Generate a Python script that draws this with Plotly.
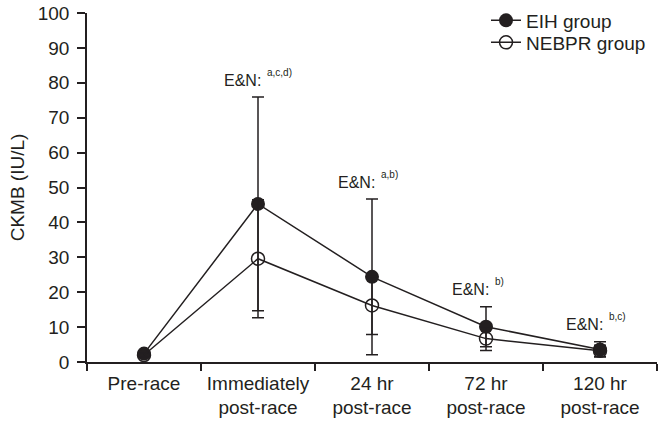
import plotly.graph_objects as go

categories = ["Pre-race", "Immediately<br>post-race", "24 hr<br>post-race",
              "72 hr<br>post-race", "120 hr<br>post-race"]
eih_mean = [2.4, 45.3, 24.4, 10.1, 3.6]
eih_sd = [0.8, 30.6, 22.3, 5.7, 2.2]
nebpr_mean = [2.0, 29.6, 16.2, 6.7, 3.2]
nebpr_sd = [0.6, 16.9, 8.3, 3.4, 1.6]
sig_labels = ["", "a,c,d)", "a,b)", "b)", "b,c)"]
y_ticks = [0, 10, 20, 30, 40, 50, 60, 70, 80, 90, 100]

INK = "#231f20"
FONT = "Arial, Liberation Sans, Helvetica, sans-serif"

fig = go.Figure()
fig.add_trace(go.Scatter(
    x=categories, y=eih_mean, name="EIH group", mode="lines+markers",
    line=dict(color=INK, width=1.5),
    marker=dict(symbol="circle", size=14, color=INK),
    error_y=dict(type="data", array=eih_sd, visible=True, color=INK,
                 thickness=1.5, width=6),
    legend="legend",
))
fig.add_trace(go.Scatter(
    x=categories, y=nebpr_mean, name="NEBPR group", mode="lines+markers",
    line=dict(color=INK, width=1.5),
    marker=dict(symbol="circle-open", size=13, color=INK, line=dict(width=1.5, color=INK)),
    error_y=dict(type="data", array=nebpr_sd, visible=True, color=INK,
                 thickness=1.5, width=6),
    legend="legend2",
))

for cat, m, s, lab in zip(categories, eih_mean, eih_sd, sig_labels):
    if not lab:
        continue
    top = m + s
    fig.add_annotation(x=cat, y=top, text="E&N:", showarrow=False,
                       xanchor="right", yanchor="middle", xshift=5, yshift=17,
                       font=dict(size=16, color=INK, family=FONT))
    fig.add_annotation(x=cat, y=top, text=lab, showarrow=False,
                       xanchor="left", yanchor="middle", xshift=7, yshift=25,
                       font=dict(size=10, color=INK, family=FONT))

legend_style = dict(xanchor="left", yanchor="top", bgcolor="rgba(0,0,0,0)",
                    font=dict(size=19, color=INK, family=FONT), itemwidth=30)

fig.update_layout(
    width=663, height=426,
    margin=dict(l=87, r=6, t=13, b=64, autoexpand=False),
    paper_bgcolor="white", plot_bgcolor="white",
    font=dict(family=FONT, size=19, color=INK),
    showlegend=True,
    hovermode=False,
    legend=dict(x=0.70, y=1.033, **legend_style),
    legend2=dict(x=0.70, y=0.970, **legend_style),
)
fig.update_xaxes(
    type="category", range=[-0.5, 4.5], showline=True, linecolor=INK, linewidth=1.5,
    ticks="outside", tickson="boundaries", ticklen=7, tickwidth=1.5, tickcolor=INK,
    ticklabelstandoff=3,
    showgrid=False, zeroline=False, tickfont=dict(size=19, color=INK),
    automargin=False,
)
fig.update_yaxes(
    range=[0, 100], tickvals=y_ticks, showline=True, linecolor=INK, linewidth=1.5,
    ticks="outside", ticklen=8, tickwidth=1.5, tickcolor=INK, ticklabelstandoff=4,
    ticklabeloverflow="allow",
    showgrid=False, zeroline=False, tickfont=dict(size=19, color=INK),
    title=dict(text="CKMB (IU/L)", font=dict(size=19, color=INK), standoff=8),
    automargin=False,
)

fig.write_html("out.html",
               config={"displayModeBar": False},
               post_script="document.body.style.margin='0';document.body.style.overflow='hidden';")
